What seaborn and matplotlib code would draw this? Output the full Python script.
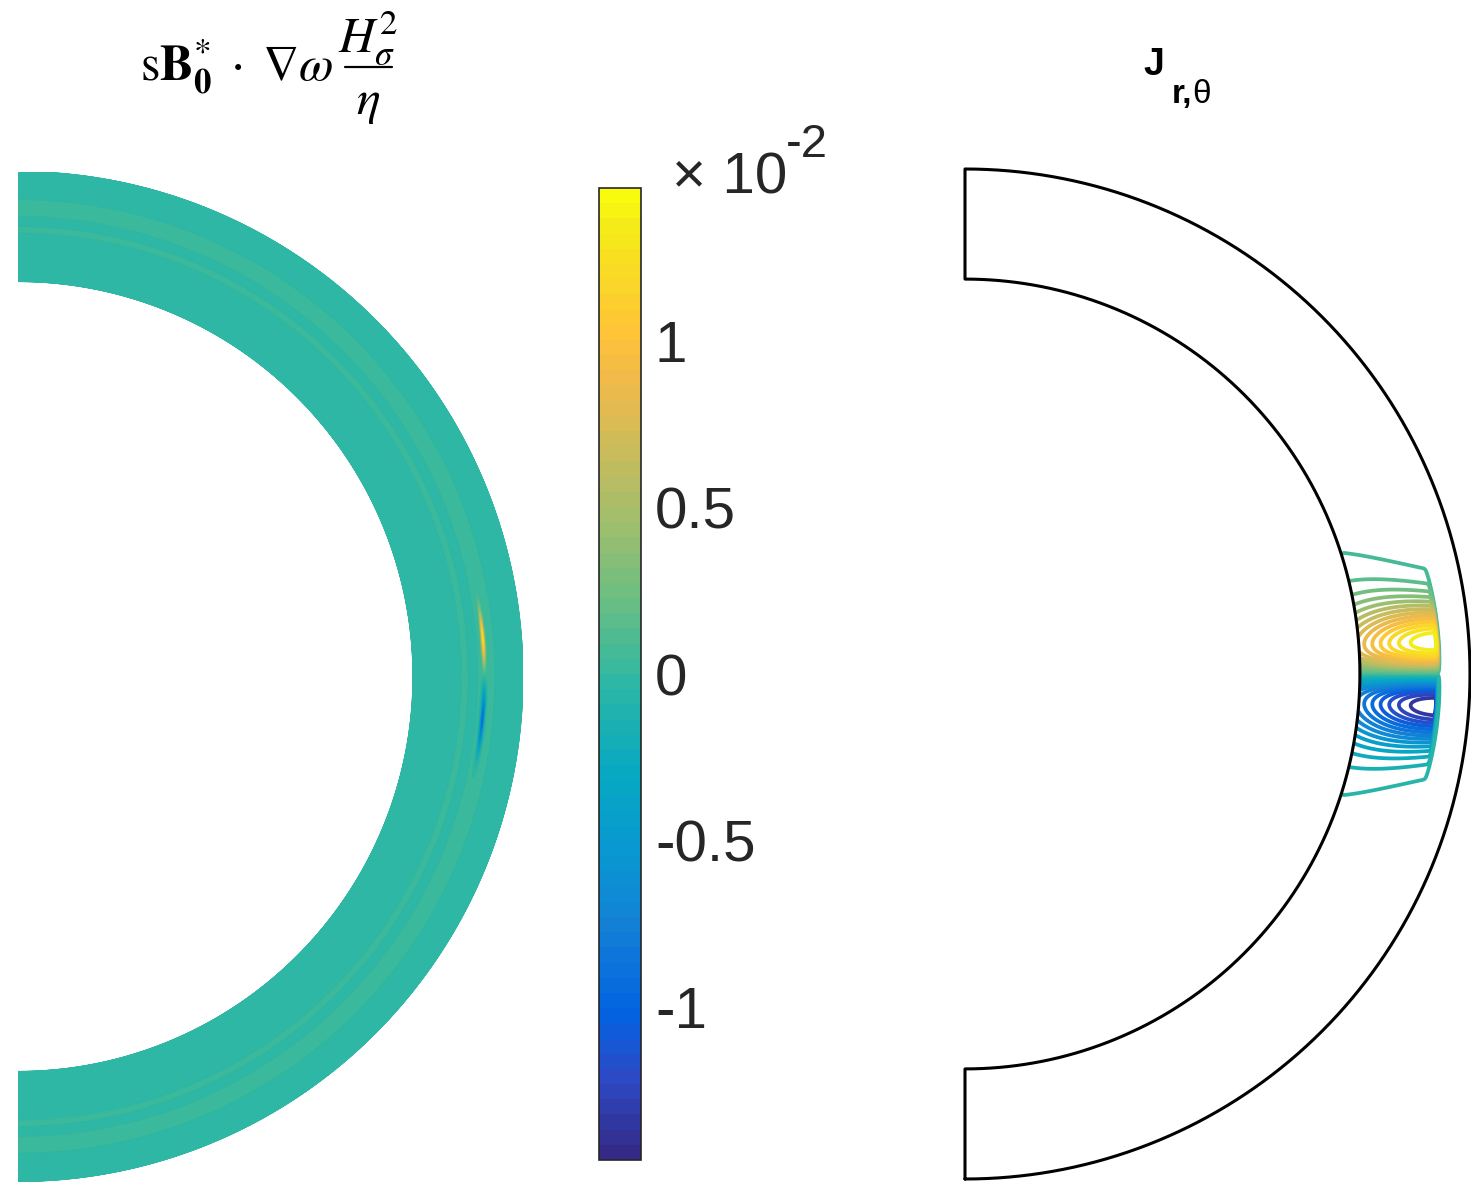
import numpy as np
import matplotlib
matplotlib.use("Agg")
import matplotlib.pyplot as plt
import seaborn as sns
from matplotlib.colors import LinearSegmentedColormap, ListedColormap, Normalize
from matplotlib.lines import Line2D

# ------------------------------------------------------------------ data
r_inner = 0.782
r_outer = 1.0

# colour scale (values shown in units of 10^-2)
clim = 0.0146
cbar_ticks = [-0.01, -0.005, 0.0, 0.005, 0.01]
cbar_ticklabels = ["-1", "-0.5", "0", "0.5", "1"]

# left panel: thin source streak just inside the outer boundary
streak_r = 0.924
streak_dr = 0.0038
streak_lat_c = [4.8, -5.3]       # degrees
streak_lat_w = [3.0, 3.6]        # degrees
streak_amp = [0.0135, -0.0095]
background_level = -0.0001
ring_r = [0.885, 0.928]
ring_dr = [0.010, 0.016]
ring_amp = [0.00015, 0.0003]

# right panel: current-density lobes
j_edge = 0.937          # radius of the sharp outer cut-off
j_s_in = 0.75           # cylindrical radius where inner profile applies
j_s_scale = 0.20        # radial decay scale of amplitude
j_z0 = [0.064, 0.058]   # lobe centre height (edge, inner)
j_tail = [2.0, 1.25]    # tail exponent (edge, inner)
j_levels_n = 14         # contour levels per sign

# parula anchors (position, rgb)
parula_pos = [0.0, 0.079, 0.143, 0.238, 0.317, 0.397, 0.492, 0.571,
              0.651, 0.730, 0.810, 0.857, 0.968, 1.0]
parula_rgb = [(0.2081, 0.1663, 0.5292), (0.1707, 0.2919, 0.7792),
              (0.0117, 0.3875, 0.8820), (0.0779, 0.5040, 0.8384),
              (0.0343, 0.5966, 0.8199), (0.0267, 0.6642, 0.7607),
              (0.1801, 0.7177, 0.6424), (0.3953, 0.7459, 0.5244),
              (0.6099, 0.7473, 0.4337), (0.7858, 0.7356, 0.3633),
              (0.9450, 0.7261, 0.2886), (0.9990, 0.7653, 0.2164),
              (0.9598, 0.9218, 0.0948), (0.9763, 0.9831, 0.0538)]

# ------------------------------------------------------------------ style
sns.set_theme(style="white")
plt.rcParams["font.family"] = ["Liberation Sans", "DejaVu Sans"]
plt.rcParams["axes.unicode_minus"] = False

_base = LinearSegmentedColormap.from_list("parula_c", list(zip(parula_pos, parula_rgb)))
parula = ListedColormap(_base(np.linspace(0, 1, 64)), name="parula64")

W, H, DPI = 1471, 1192, 100
fig = plt.figure(figsize=(W / DPI, H / DPI), dpi=DPI)
fig.patch.set_facecolor("white")


def rect(x0, y0, x1, y1):
    return [x0 / W, 1 - y1 / H, (x1 - x0) / W, (y1 - y0) / H]


def fx(x):
    return x / W


def fy(y):
    return 1 - y / H


axL = fig.add_axes(rect(18, 171.5, 523, 1181.5))
axR = fig.add_axes(rect(965, 169, 1470, 1179))
cax = fig.add_axes(rect(599, 188, 641, 1160))

# ------------------------------------------------------------------ grid
lat_deg = np.linspace(-90, 90, 1441)
rr = np.linspace(r_inner, r_outer, 420)
R, LATD = np.meshgrid(rr, lat_deg)
T = np.radians(LATD)
X = R * np.cos(T)
Y = R * np.sin(T)

# ------------------------------------------------------------------ left field
F = np.full_like(R, background_level)
for rc, dr, a in zip(ring_r, ring_dr, ring_amp):
    F += a * np.exp(-((R - rc) / dr) ** 2)
for lc, lw_, a in zip(streak_lat_c, streak_lat_w, streak_amp):
    F += a * np.exp(-((R - streak_r) / streak_dr) ** 2) * np.exp(-((LATD - lc) / lw_) ** 2)

norm = Normalize(-clim, clim)
mesh = axL.pcolormesh(X, Y, F, cmap=parula, norm=norm, shading="gouraud", rasterized=True)
axL.set_xlim(0, 1)
axL.set_ylim(-1, 1)
axL.set_aspect("auto")
axL.set_axis_off()

# ------------------------------------------------------------------ colorbar
cb = fig.colorbar(mesh, cax=cax, orientation="vertical")
cb.set_ticks(cbar_ticks)
cb.set_ticklabels(cbar_ticklabels)
cax.tick_params(axis="y", direction="in", length=8, width=1.2, color="#262626",
                labelsize=42, labelcolor="#262626", pad=10, right=True, left=False)
cb.outline.set_edgecolor("#262626")
cb.outline.set_linewidth(1.2)
fig.text(fx(672), fy(193), "\u00d7 10", fontsize=42, color="#262626",
         ha="left", va="baseline")
fig.text(fx(786), fy(157), "-2", fontsize=34, color="#262626",
         ha="left", va="baseline")

# ------------------------------------------------------------------ right field
S = X
Z = Y
t = np.clip((j_edge - S) / (j_edge - j_s_in), 0, 1)
z0 = j_z0[0] + (j_z0[1] - j_z0[0]) * t
p = j_tail[0] + (j_tail[1] - j_tail[0]) * t
amp = np.exp(-((np.minimum(S, j_edge) - j_edge) / j_s_scale) ** 2)
U = np.abs(Z) / z0
G = np.sign(Z) * U * np.exp((1 - U ** p) / p)
cut = 0.5 * (1 - np.tanh((R - j_edge) / 0.002))
J = amp * G * cut
fmax = np.abs(J).max()
kk = (np.arange(1, j_levels_n + 1) - 0.5) / (j_levels_n + 0.5)
levels = np.concatenate([-kk[::-1], kk]) * fmax
axR.contour(X, Y, J, levels=levels, cmap=parula, norm=Normalize(-fmax, fmax),
            linewidths=2.7)

# annulus outline
th_out = np.radians(np.linspace(-90, 90, 721))
th_in = th_out[::-1]
ox = np.concatenate([r_outer * np.cos(th_out), r_inner * np.cos(th_in), [r_outer * np.cos(th_out[0])]])
oy = np.concatenate([r_outer * np.sin(th_out), r_inner * np.sin(th_in), [r_outer * np.sin(th_out[0])]])
sns.lineplot(x=ox, y=oy, sort=False, estimator=None, color="black", linewidth=2.2, ax=axR)
for ln in axR.lines:
    ln.set_clip_on(False)
axR.set_xlim(0, 1)
axR.set_ylim(-1, 1)
axR.set_axis_off()

# ------------------------------------------------------------------ titles
# left: s B0* . grad(omega) H_sigma^2 / eta
fig.text(fx(140), fy(80), r"$\mathrm{s}\mathbf{B}_{\mathbf{0}}^{*}\;\cdot\;\nabla\omega$",
         math_fontfamily="stix", fontsize=36, color="black", ha="left", va="baseline")
fig.text(fx(368), fy(52), r"$H_{\sigma}^{2}$",
         math_fontfamily="stix", fontsize=36, color="black", ha="center", va="baseline")
fig.text(fx(368), fy(114), r"$\eta$",
         math_fontfamily="stix", fontsize=36, color="black", ha="center", va="baseline")
fig.add_artist(Line2D([fx(345), fx(392)], [fy(67), fy(67)], color="black", linewidth=1.6,
                      transform=fig.transFigure))

# right: J_{r,theta}
fig.text(fx(1143), fy(75), "J", fontsize=27, fontweight="bold", color="black",
         ha="left", va="baseline")
tr = fig.text(fx(1172), fy(103), "r,", fontsize=24, fontweight="bold", color="black",
              ha="left", va="baseline")
axR.annotate("\u03b8", xy=(1, 0), xycoords=tr, ha="left", va="bottom",
             fontsize=24, color="black", annotation_clip=False)

fig.savefig("out.png", dpi=DPI, facecolor="white")
